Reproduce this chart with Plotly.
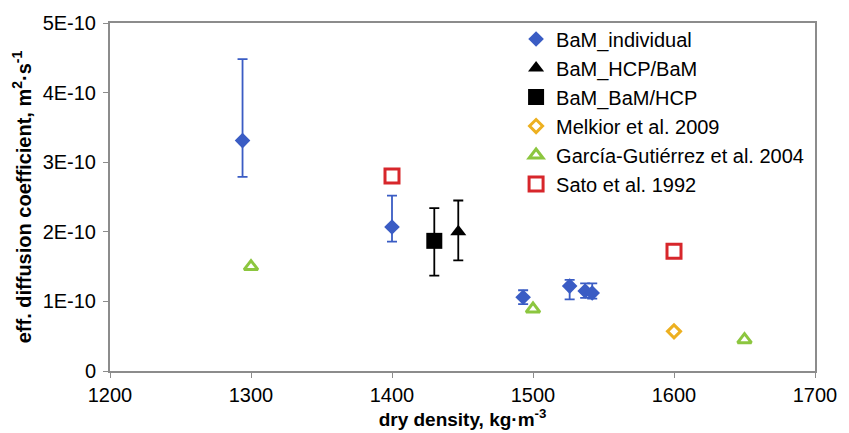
import plotly.graph_objects as go

# BaM_individual
bam_x = [1294, 1400, 1493, 1526, 1537, 1542]
bam_y = [3.31e-10, 2.07e-10, 1.06e-10, 1.22e-10, 1.15e-10, 1.12e-10]
bam_hi = [4.48e-10, 2.52e-10, 1.16e-10, 1.31e-10, 1.26e-10, 1.26e-10]
bam_lo = [2.79e-10, 1.86e-10, 0.96e-10, 1.03e-10, 1.05e-10, 1.04e-10]

# BaM_HCP/BaM
hcp_x = [1447]
hcp_y = [2.00e-10]
hcp_hi = [2.45e-10]
hcp_lo = [1.59e-10]

# BaM_BaM/HCP
bh_x = [1430]
bh_y = [1.87e-10]
bh_hi = [2.34e-10]
bh_lo = [1.37e-10]

# Melkior et al. 2009
mel_x = [1600]
mel_y = [0.57e-10]

# García-Gutiérrez et al. 2004
gg_x = [1300, 1500, 1650]
gg_y = [1.50e-10, 0.89e-10, 0.45e-10]

# Sato et al. 1992
sato_x = [1400, 1600]
sato_y = [2.80e-10, 1.72e-10]

y_ticks = [0, 1e-10, 2e-10, 3e-10, 4e-10, 5e-10]
y_ticktext = ["0", "1E-10", "2E-10", "3E-10", "4E-10", "5E-10"]
x_ticks = [1200, 1300, 1400, 1500, 1600, 1700]

BLUE = "#3A5CC4"
FONT = "Liberation Sans, Arial, sans-serif"


def err(y, hi, lo):
    return ([h - v for h, v in zip(hi, y)], [v - l for v, l in zip(y, lo)])


fig = go.Figure()

p, m = err(bam_y, bam_hi, bam_lo)
fig.add_trace(go.Scatter(
    x=bam_x, y=bam_y, mode="markers", name="BaM_individual",
    marker=dict(symbol="diamond", size=12, color=BLUE),
    error_y=dict(type="data", symmetric=False, array=p, arrayminus=m,
                 color=BLUE, thickness=1.8, width=5)))

p, m = err(hcp_y, hcp_hi, hcp_lo)
fig.add_trace(go.Scatter(
    x=hcp_x, y=hcp_y, mode="markers", name="BaM_HCP/BaM",
    marker=dict(symbol="triangle-up", size=14, color="black"),
    error_y=dict(type="data", symmetric=False, array=p, arrayminus=m,
                 color="black", thickness=1.8, width=5)))

p, m = err(bh_y, bh_hi, bh_lo)
fig.add_trace(go.Scatter(
    x=bh_x, y=bh_y, mode="markers", name="BaM_BaM/HCP",
    marker=dict(symbol="square", size=16, color="black"),
    error_y=dict(type="data", symmetric=False, array=p, arrayminus=m,
                 color="black", thickness=1.8, width=5)))

fig.add_trace(go.Scatter(
    x=mel_x, y=mel_y, mode="markers", name="Melkior et al. 2009",
    marker=dict(symbol="diamond-open", size=10, color="#EDB020",
                line=dict(width=3, color="#EDB020"))))

fig.add_trace(go.Scatter(
    x=gg_x, y=gg_y, mode="markers", name="García-Gutiérrez et al. 2004",
    marker=dict(symbol="triangle-up-open", size=12, color="#8CC63F",
                line=dict(width=3, color="#8CC63F"))))

fig.add_trace(go.Scatter(
    x=sato_x, y=sato_y, mode="markers", name="Sato et al. 1992",
    marker=dict(symbol="square-open", size=14, color="#D7262B",
                line=dict(width=3, color="#D7262B"))))

fig.update_layout(
    width=849, height=433,
    margin=dict(l=110, r=25, t=17, b=58),
    paper_bgcolor="white", plot_bgcolor="white",
    font=dict(family=FONT, size=20, color="black"),
    showlegend=True,
    legend=dict(x=0.576, y=1.01, xanchor="left", yanchor="top",
                bgcolor="rgba(255,255,255,0)", borderwidth=0,
                font=dict(size=20), itemwidth=30, tracegroupgap=0),
    xaxis=dict(range=[1200, 1700], tickvals=x_ticks, showgrid=False,
               zeroline=False, showline=True, linecolor="#8C8C8C", linewidth=2,
               mirror=True, ticks="outside", ticklen=5, tickcolor="#8C8C8C",
               tickfont=dict(size=20),
               title=dict(text="<b>dry density, kg·m<sup>-3</sup></b>",
                          font=dict(size=19), standoff=2)),
    yaxis=dict(range=[0, 5e-10], tickvals=y_ticks, ticktext=y_ticktext,
               showgrid=False, zeroline=False, showline=True,
               linecolor="#8C8C8C", linewidth=2, mirror=True,
               ticks="outside", ticklen=5, tickcolor="#8C8C8C",
               tickfont=dict(size=20), ticklabelstandoff=3,
               title=dict(text="<b>eff. diffusion coefficient, m<sup>2</sup>·s<sup>-1</sup></b>",
                          font=dict(size=20), standoff=6)),
)

fig.write_html("out.html")
